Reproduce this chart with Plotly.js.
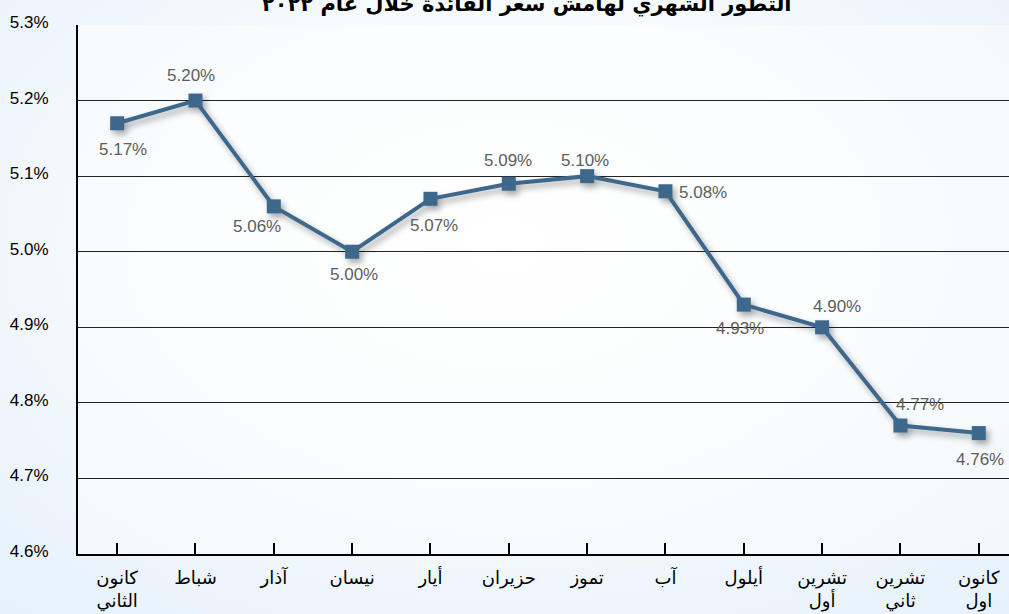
<!DOCTYPE html>
<html>
<head>
<meta charset="utf-8">
<script src="https://cdn.plot.ly/plotly-3.0.1.min.js"></script>
<style>
html, body { margin:0; padding:0; }
body {
  width:1009px; height:614px; overflow:hidden;
  background: radial-gradient(ellipse 75% 80% at 50% 40%, #ffffff 0%, #f7fbfd 45%, #e6f1fa 100%);
}
#chart { width:1009px; height:614px; }
.scatterlayer .trace { filter: drop-shadow(3px 4px 3px rgba(0,0,0,0.35)); }
</style>
</head>
<body>
<div id="chart"></div>
<script>
// ---- data ----
const months = ["كانون<br>الثاني", "شباط", "آذار", "نيسان", "أيار", "حزيران", "تموز", "آب", "أيلول", "تشرين<br>أول", "تشرين<br>ثاني", "كانون<br>اول"];
const rates = [5.17, 5.20, 5.06, 5.00, 5.07, 5.09, 5.10, 5.08, 4.93, 4.90, 4.77, 4.76];
const yTickVals = [4.6, 4.7, 4.8, 4.9, 5.0, 5.1, 5.2, 5.3];
const yTickText = ["4.6%", "4.7%", "4.8%", "4.9%", "5.0%", "5.1%", "5.2%", "5.3%"];
const titleText = "التطور الشهري لهامش سعر الفائدة خلال عام ٢٠٢٢";

// ---- label placement (pixel offsets from each point) ----
const labelShiftX = [6, -4, -17, 2, 4, -1, -2, 38, -4, 15, 20, 1];
const labelShiftY = [-26, 25, -20, -23, -27, 23, 16, -1, -24, 21, 21, -26];

const lineColor = "#3d688c";

const trace = {
  x: months.map((m, i) => i),
  y: rates,
  type: "scatter",
  mode: "lines+markers",
  line: { color: lineColor, width: 4 },
  marker: { symbol: "square", size: 14, color: lineColor },
  hoverinfo: "skip",
  cliponaxis: false
};

const annotations = rates.map((v, i) => ({
  x: i, y: v, xref: "x", yref: "y",
  text: v.toFixed(2) + "%",
  showarrow: false,
  xshift: labelShiftX[i], yshift: labelShiftY[i],
  font: { family: "Liberation Sans, Arial, sans-serif", size: 17, color: "#5e5e5e" }
}));

const layout = {
  width: 1009, height: 614,
  margin: { l: 78, r: 0, t: 25, b: 60 },
  paper_bgcolor: "rgba(0,0,0,0)",
  plot_bgcolor: "rgba(255,255,255,0.45)",
  showlegend: false,
  title: {
    text: titleText,
    font: { family: "DejaVu Sans, sans-serif", size: 21, color: "#000", weight: "bold" },
    x: 0.522, xanchor: "center",
    yref: "container", y: 0.994, yanchor: "middle"
  },
  xaxis: {
    tickmode: "array",
    tickvals: months.map((m, i) => i),
    ticktext: months,
    range: [-0.5, 11.386],
    showgrid: false,
    zeroline: false,
    showline: true, linecolor: "#000", linewidth: 2,
    ticks: "inside", tickson: "boundaries", ticklen: 11, tickwidth: 2, tickcolor: "#000",
    ticklabelstandoff: 6,
    tickfont: { family: "DejaVu Sans, sans-serif", size: 18, color: "#000" },
    fixedrange: true
  },
  yaxis: {
    range: [4.6, 5.3],
    tickmode: "array",
    tickvals: yTickVals,
    ticktext: yTickText,
    showgrid: true, gridcolor: "#222", gridwidth: 1,
    zeroline: false,
    showline: true, linecolor: "#000", linewidth: 2,
    ticks: "",
    ticklabelstandoff: 24,
    ticklabelshift: -3,
    tickfont: { family: "Liberation Sans, Arial, sans-serif", size: 17, color: "#000" },
    fixedrange: true
  },
  annotations: annotations
};

Plotly.newPlot("chart", [trace], layout, { displayModeBar: false, staticPlot: true });
</script>
</body>
</html>
